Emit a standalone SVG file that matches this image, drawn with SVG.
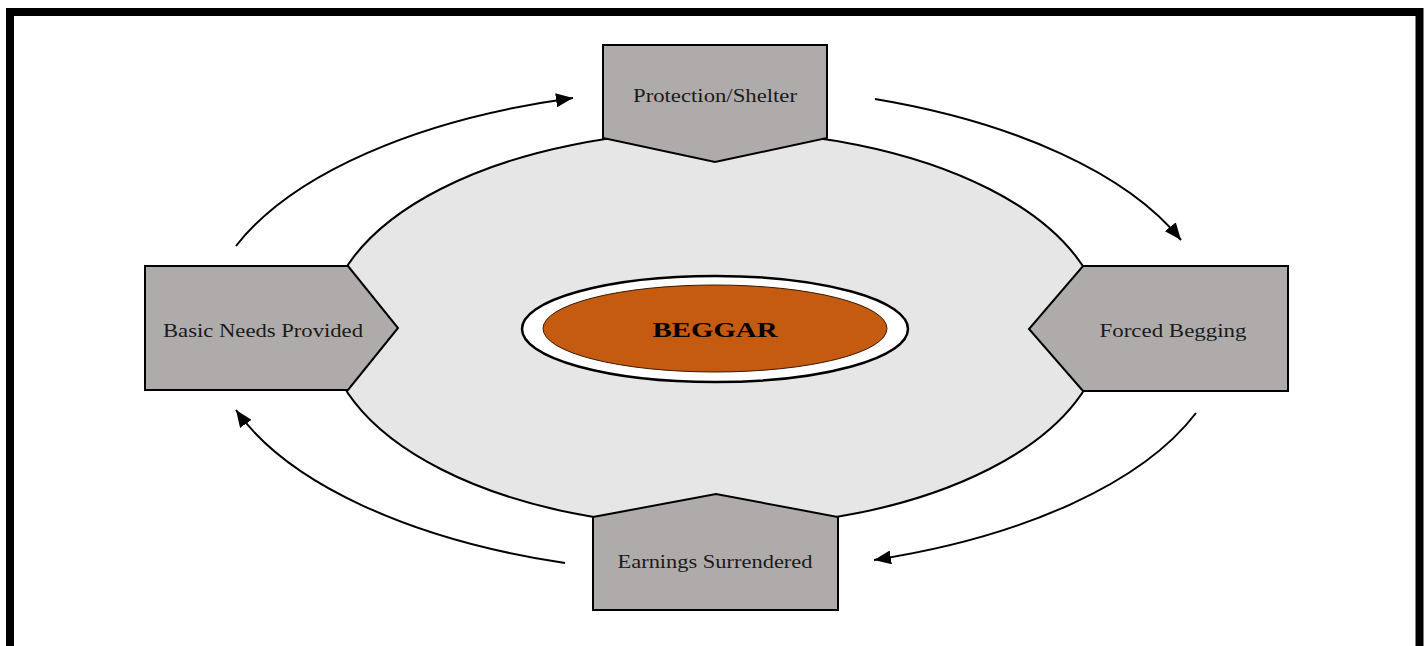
<svg xmlns="http://www.w3.org/2000/svg" width="1427" height="646" viewBox="0 0 1427 646">
  <style>
    .node { fill: #afabab; stroke: #000; stroke-width: 2; stroke-linejoin: miter; }
    .label { font-family: "Liberation Serif", "Times New Roman", serif; font-size: 18px; fill: #1a1a1a; text-anchor: middle; }
    .title { font-family: "Liberation Serif", "Times New Roman", serif; font-size: 22px; font-weight: bold; fill: #000; text-anchor: middle; }
    .flow { fill: none; stroke: #000; stroke-width: 2; }
  </style>
  <defs>
    <marker id="arrowhead" markerUnits="userSpaceOnUse" markerWidth="18" markerHeight="14" refX="17" refY="7" orient="auto">
      <path d="M0,0 L17,7 L0,14 Z" fill="#000"/>
    </marker>
  </defs>

  <rect x="0" y="0" width="1427" height="646" fill="#fff"/>
  <!-- outer frame -->
  <rect x="10" y="12" width="1409.5" height="700" fill="none" stroke="#000" stroke-width="8"/>

  <!-- large background ellipse -->
  <ellipse id="cycle-area" cx="715" cy="329" rx="388" ry="198" fill="#e7e6e6" stroke="#000" stroke-width="2"/>

  <!-- circular flow connectors -->
  <g id="connectors">
    <path class="flow" d="M236,246 A510,240 0 0 1 573,98" marker-end="url(#arrowhead)"/>
    <path class="flow" d="M875,99 A510,240 0 0 1 1181,240" marker-end="url(#arrowhead)"/>
    <path class="flow" d="M1196,413 A510,240 0 0 1 874,560" marker-end="url(#arrowhead)"/>
    <path class="flow" d="M565,563 A510,240 0 0 1 236,410" marker-end="url(#arrowhead)"/>
  </g>

  <g id="node-protection">
    <polygon class="node" points="603,45 827,45 827,138 715,162 603,138"/>
    <text class="label" x="715" y="102" textLength="164" lengthAdjust="spacingAndGlyphs">Protection/Shelter</text>
  </g>

  <g id="node-forced-begging">
    <polygon class="node" points="1083,266 1288,266 1288,391 1083,391 1029,329"/>
    <text class="label" x="1173" y="337" textLength="147" lengthAdjust="spacingAndGlyphs">Forced Begging</text>
  </g>

  <g id="node-earnings">
    <polygon class="node" points="593,517 716,494 838,517 838,610 593,610"/>
    <text class="label" x="715" y="568" textLength="195" lengthAdjust="spacingAndGlyphs">Earnings Surrendered</text>
  </g>

  <g id="node-basic-needs">
    <polygon class="node" points="145,266 348,266 398,328 348,390 145,390"/>
    <text class="label" x="263" y="337" textLength="200" lengthAdjust="spacingAndGlyphs">Basic Needs Provided</text>
  </g>

  <g id="node-beggar">
    <ellipse cx="715" cy="329" rx="193" ry="53" fill="#fff" stroke="#000" stroke-width="2.5"/>
    <ellipse cx="715" cy="328.5" rx="172" ry="43.5" fill="#c55a11" stroke="#3a1a05" stroke-width="1"/>
    <text class="title" x="715" y="337" textLength="125" lengthAdjust="spacingAndGlyphs">BEGGAR</text>
  </g>
</svg>
